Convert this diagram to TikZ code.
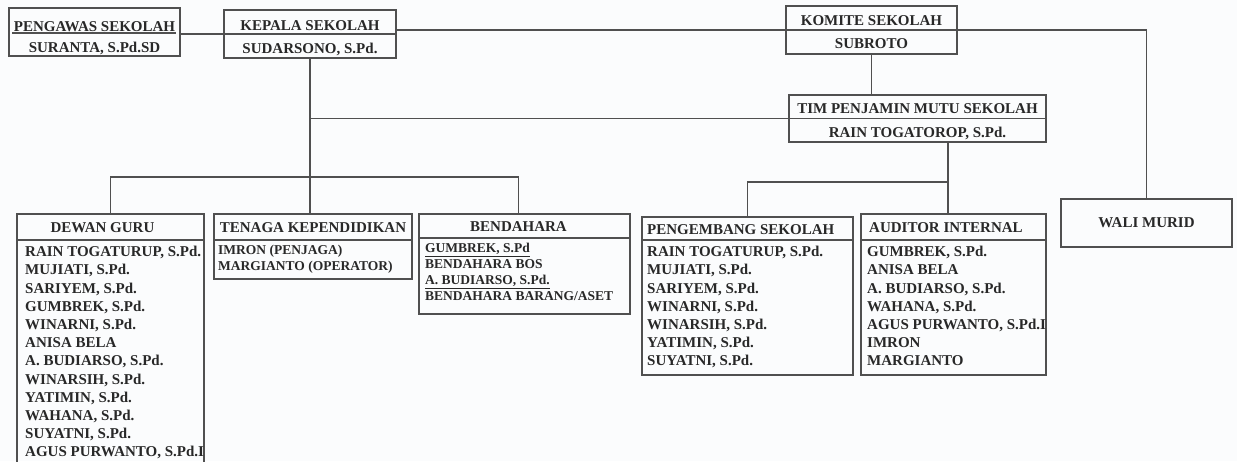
\documentclass[tikz,border=0pt]{standalone}
\usepackage{fontspec}
\setmainfont{Liberation Serif}
\usetikzlibrary{positioning}
\definecolor{linegray}{HTML}{505050}
\definecolor{textgray}{HTML}{282828}
\definecolor{paper}{HTML}{FBFCFD}

\begin{document}
\begin{tikzpicture}[
    x=1pt, y=-1pt,
    box/.style={rectangle, draw=linegray, line width=1.2pt, anchor=north west, inner sep=0pt, outer sep=0pt},
    title/.style={inner sep=0pt, text=textgray, font=\fontsize{15}{18}\selectfont\bfseries},
    list/.style={inner sep=0pt, text=textgray, align=left, font=\fontsize{15}{18.2}\selectfont\bfseries},
    small list/.style={list, font=\fontsize{13.5}{16}\selectfont\bfseries},
    link/.style={draw=linegray, line width=1.2pt}
  ]
  \path[fill=paper, use as bounding box] (0,0) rectangle (1237,461);

  \node[box, minimum width=171pt, minimum height=48pt] (pengawas) at (9,8) {};
  \node[box, minimum width=172pt, minimum height=48pt] (kepala) at (224,10) {};
  \node[box, minimum width=171pt, minimum height=48pt] (komite) at (786,6) {};
  \node[box, minimum width=257pt, minimum height=47pt] (tim) at (789,95) {};
  \node[box, title, minimum width=171pt, minimum height=48pt] (wali) at (1061,199) {WALI MURID};
  \node[box, minimum width=187pt, minimum height=270pt] (dewan) at (17,214) {};
  \node[box, minimum width=198pt, minimum height=65pt] (tenaga) at (214,214) {};
  \node[box, minimum width=211pt, minimum height=100pt] (bendahara) at (419,214) {};
  \node[box, minimum width=211pt, minimum height=158pt] (pengembang) at (642,217) {};
  \node[box, minimum width=185pt, minimum height=161pt] (auditor) at (861,214) {};

  \node[title, below=13pt of pengawas.north] (pengawas-t) {PENGAWAS SEKOLAH};
  \node[title, below=34pt of pengawas.north] (pengawas-n) {SURANTA, S.Pd.SD};
  \node[title, below=10pt of kepala.north] (kepala-t) {KEPALA SEKOLAH};
  \node[title, below=33pt of kepala.north] (kepala-n) {SUDARSONO, S.Pd.};
  \node[title, below=9pt of komite.north] (komite-t) {KOMITE SEKOLAH};
  \node[title, below=32pt of komite.north] (komite-n) {SUBROTO};
  \node[title, below=8pt of tim.north] (tim-t) {TIM PENJAMIN MUTU SEKOLAH};
  \node[title, below=32pt of tim.north] (tim-n) {RAIN TOGATOROP, S.Pd.};

  \node[title, below=8pt of dewan.north, xshift=-8pt] (dewan-t) {DEWAN GURU};
  \node[list, below right=32pt and 8pt of dewan.north west] (dewan-l) {
    RAIN TOGATURUP, S.Pd.\\ MUJIATI, S.Pd.\\ SARIYEM, S.Pd.\\ GUMBREK, S.Pd.\\
    WINARNI, S.Pd.\\ ANISA BELA\\ A. BUDIARSO, S.Pd.\\ WINARSIH, S.Pd.\\
    YATIMIN, S.Pd.\\ WAHANA, S.Pd.\\ SUYATNI, S.Pd.\\ AGUS PURWANTO, S.Pd.I};
  \node[title, below=8pt of tenaga.north] (tenaga-t) {TENAGA KEPENDIDIKAN};
  \node[small list, below right=31pt and 4pt of tenaga.north west] (tenaga-l) {
    IMRON (PENJAGA)\\ MARGIANTO (OPERATOR)};
  \node[title, below=7pt of bendahara.north, xshift=-6pt] (bendahara-t) {BENDAHARA};
  \node[small list, below right=29pt and 6pt of bendahara.north west] (bendahara-l) {
    \underline{GUMBREK, S.Pd}\\ BENDAHARA BOS\\ \underline{A. BUDIARSO, S.Pd.}\\ BENDAHARA BARANG/ASET};
  \node[title, below right=7pt and 5pt of pengembang.north west] (pengembang-t) {PENGEMBANG SEKOLAH};
  \node[list, below right=29pt and 5pt of pengembang.north west] (pengembang-l) {
    RAIN TOGATURUP, S.Pd.\\ MUJIATI, S.Pd.\\ SARIYEM, S.Pd.\\ WINARNI, S.Pd.\\
    WINARSIH, S.Pd.\\ YATIMIN, S.Pd.\\ SUYATNI, S.Pd.};
  \node[title, below right=8pt and 8pt of auditor.north west] (auditor-t) {AUDITOR INTERNAL};
  \node[list, below right=32pt and 6pt of auditor.north west] (auditor-l) {
    GUMBREK, S.Pd.\\ ANISA BELA\\ A. BUDIARSO, S.Pd.\\ WAHANA, S.Pd.\\
    AGUS PURWANTO, S.Pd.I\\ IMRON\\ MARGIANTO};

  % garis penghubung
  \draw[link] ([xshift=3pt,yshift=-25pt]pengawas.north west) -- ([xshift=-4pt,yshift=-25pt]pengawas.north east);
  \draw[link] (pengawas.east |- kepala.west) -- (kepala.east);
  \draw[link] (kepala.east |- komite.west) -- (komite.east) -| (wali.north);
  \draw[link] (komite.south) -- (komite.south |- tim.north);
  \draw[link] (kepala.south |- tim.west) -- (tim.east);
  \draw[link] (kepala.south) -- (kepala.south |- tenaga.north);
  \coordinate (kbar) at (310,177);
  \draw[link] (dewan.north) |- (kbar) -| ([xshift=-6pt]bendahara.north);
  \coordinate (tbar) at (948,182);
  \draw[link] (tbar |- tim.south) -- (tbar |- auditor.north);
  \draw[link] (tbar) -| (pengembang.north);
  \foreach \b/\d in {dewan/26, tenaga/26, bendahara/24, pengembang/23, auditor/26}
    \draw[link] ([yshift=-\d pt]\b.north west) -- ([yshift=-\d pt]\b.north east);
\end{tikzpicture}
\end{document}
